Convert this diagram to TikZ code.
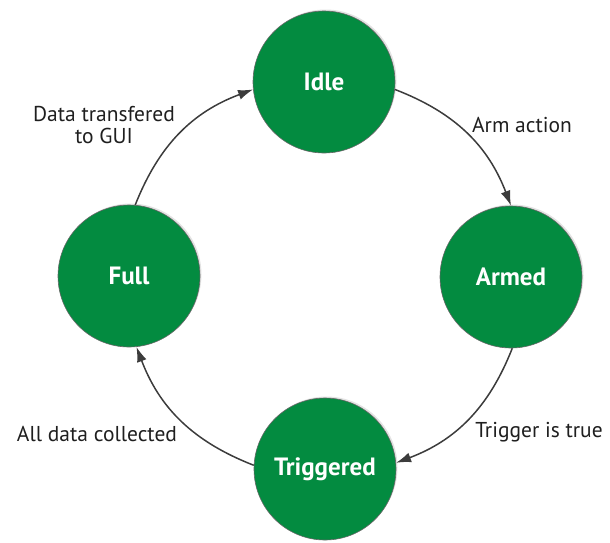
\documentclass[tikz,border=0pt]{standalone}
\usepackage{fontspec}
\setmainfont{PT Sans}
\usetikzlibrary{arrows.meta,shadows}
\definecolor{stategreen}{HTML}{038B40}
\definecolor{rimgray}{HTML}{666666}
\definecolor{linkgray}{HTML}{3C3C3C}
\tikzset{
  state/.style={circle, minimum size=142pt, inner sep=0pt, fill=stategreen,
    draw=rimgray, line width=0.6pt, text=white, font=\bfseries\fontsize{25}{27}\selectfont,
    drop shadow={opacity=0.22, shadow xshift=1.5pt, shadow yshift=1.5pt}},
  link/.style={draw=linkgray, line width=1.5pt,
    -{Latex[length=15pt,width=10pt]}, bend left=24},
  tag/.style={text=black!88, font=\fontsize{21.5}{22}\selectfont, align=center, inner sep=0pt}
}
\begin{document}
\begin{tikzpicture}[x=1pt,y=-1pt]
  \useasboundingbox (0,0) rectangle (610,542);
  \node[state] (idle)      at (324,82)  {Idle};
  \node[state] (armed)     at (511,277) {Armed};
  \node[state] (triggered) at (325,469) {Triggered};
  \node[state] (full)      at (129,276) {Full};

  % transitions run clockwise along one large circle
  \draw[link] (idle.-6) to (armed.90);
  \draw[link] (armed.-89) to (triggered.5);
  \draw[link] (triggered.177) to (full.-84);
  \draw[link] (full.85) to (idle.186);

  \node[tag] (lblarm)  at (522,125) {Arm action};
  \node[tag] (lbltrig) at (539,432) {Trigger is true};
  \node[tag] (lblall)  at (97,434)  {All data collected};
  \node[tag] (lblgui)  at (104,125) {Data transfered\\to GUI};
\end{tikzpicture}
\end{document}
